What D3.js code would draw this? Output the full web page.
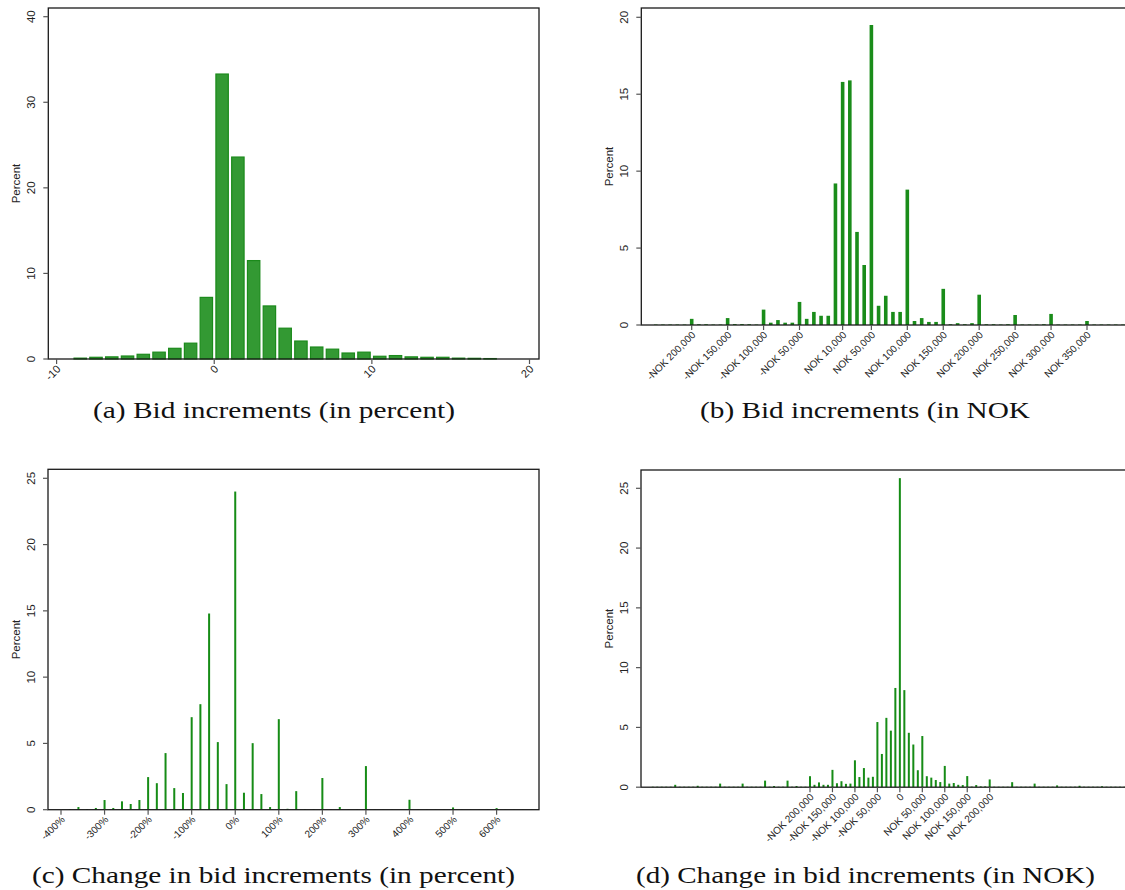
<!DOCTYPE html>
<html>
<head>
<meta charset="utf-8">
<script src="https://cdn.jsdelivr.net/npm/d3@7"></script>
<style>
  html, body { margin: 0; padding: 0; background: #fff; overflow: hidden; }
  svg { display: block; }
</style>
</head>
<body>
<script>
// ---- data ----

// (a) bid increments in percent, bins of width 1, centres
var aBins = [-8.5,-7.5,-6.5,-5.5,-4.5,-3.5,-2.5,-1.5,-0.5,0.5,1.5,2.5,3.5,4.5,5.5,6.5,7.5,8.5,9.5,10.5,11.5,12.5,13.5,14.5,15.5,16.5,17.5];
var aPct  = [0.1,0.2,0.25,0.35,0.55,0.8,1.25,1.85,7.2,33.3,23.6,11.5,6.2,3.6,2.1,1.4,1.15,0.7,0.8,0.32,0.4,0.25,0.2,0.2,0.1,0.08,0.05];
var aTicks = [-10, 0, 10, 20];
var aYTicks = [0, 10, 20, 30, 40];

// (b) bid increments in NOK (thousands)
var bNok = [-250,-240,-230,-220,-210,-200,-190,-180,-170,-160,-150,-140,-130,-120,-110,-100,-90,-80,-70,-60,-50,-40,-30,-20,-10,
            0,10,20,30,40,50,60,70,80,90,100,110,120,130,140,150,160,170,180,190,200,210,220,230,240,250,
            260,270,280,290,300,310,320,330,340,350,360,370,380,390,400];
var bPct = [0.03,0.03,0.03,0.03,0.03,0.4,0.05,0.05,0.03,0.03,0.45,0.06,0.06,0.05,0.03,1.0,0.15,0.32,0.15,0.15,1.5,0.4,0.85,0.6,0.6,
            9.2,15.8,15.9,6.05,3.9,19.5,1.25,1.9,0.85,0.85,8.8,0.26,0.45,0.2,0.2,2.35,0.05,0.12,0.05,0.12,1.97,0.05,0.05,0.03,0.05,0.65,
            0.03,0.03,0.03,0.05,0.72,0.03,0.03,0.03,0.03,0.26,0.03,0.03,0.03,0.03,0.03];
var bTicks = [-200,-150,-100,-50,10,50,100,150,200,250,300,350];
var bYTicks = [0, 5, 10, 15, 20];

// (c) change in bid increments, percent
var cChg = [-400,-380,-360,-340,-320,-300,-280,-260,-240,-220,-200,-180,-160,-140,-120,-100,-80,-60,-40,-20,
            0,20,40,60,80,100,120,140,160,180,200,220,240,260,280,300,320,340,360,380,
            400,420,440,460,480,500,520,540,560,580,600,620,640,660,680];
var cPct = [0.02,0.05,0.2,0.05,0.13,0.73,0.13,0.63,0.43,0.73,2.46,2.0,4.27,1.63,1.26,6.98,7.96,14.8,5.1,1.93,
            24.0,1.28,5.02,1.18,0.2,6.83,0.07,1.4,0.04,0.04,2.39,0.03,0.2,0.03,0.03,3.29,0.02,0.02,0.02,0.02,
            0.75,0.02,0.02,0.02,0.02,0.17,0.02,0.02,0.02,0.02,0.12,0.02,0.02,0.02,0.02];
var cTicks = [-400,-300,-200,-100,0,100,200,300,400,500,600];
var cYTicks = [0, 5, 10, 15, 20, 25];

// (d) change in bid increments, NOK (thousands)
var dNok = [-550,-540,-530,-520,-510,-500,-490,-480,-470,-460,-450,-440,-430,-420,-410,-400,-390,-380,-370,-360,
            -350,-340,-330,-320,-310,-300,-290,-280,-270,-260,-250,-240,-230,-220,-210,-200,-190,-180,-170,-160,
            -150,-140,-130,-120,-110,-100,-90,-80,-70,-60,-50,-40,-30,-20,-10,
            0,10,20,30,40,50,60,70,80,90,100,110,120,130,140,150,160,170,180,190,200,
            210,220,230,240,250,260,270,280,290,300,310,320,330,340,350,360,370,380,390,400,
            410,420,430,440,450,460,470,480,490,500];
var dPct = [0.04,0.04,0.04,0.04,0.04,0.2,0.04,0.04,0.04,0.04,0.12,0.04,0.04,0.04,0.04,0.3,0.04,0.04,0.04,0.04,
            0.3,0.04,0.04,0.04,0.04,0.55,0.04,0.1,0.04,0.04,0.55,0.04,0.1,0.04,0.04,0.92,0.2,0.4,0.2,0.2,
            1.45,0.33,0.5,0.28,0.3,2.25,0.85,1.6,0.8,0.87,5.45,2.78,5.8,4.73,8.3,
            25.85,8.12,4.55,3.57,1.42,4.28,0.92,0.8,0.6,0.43,1.78,0.3,0.35,0.2,0.18,0.93,0.05,0.18,0.07,0.07,0.65,
            0.04,0.04,0.04,0.04,0.42,0.04,0.04,0.04,0.04,0.3,0.04,0.04,0.04,0.04,0.15,0.04,0.04,0.04,0.04,0.12,
            0.04,0.04,0.04,0.04,0.08,0.04,0.04,0.04,0.04,0.04];
var dTicks = [-200,-150,-100,-50,0,50,100,150,200];
var dYTicks = [0, 5, 10, 15, 20, 25];

var captions = ["(a) Bid increments (in percent)", "(b) Bid increments (in NOK",
                "(c) Change in bid increments (in percent)", "(d) Change in bid increments (in NOK)"];

// ---- drawing ----
var W = 1125, H = 890;
var svg = d3.select('body').append('svg').attr('width', W).attr('height', H);

var nokFmt = function(v){
  if (v === 0) return '0';
  return (v < 0 ? '-' : '') + 'NOK ' + d3.format(',')(Math.abs(v) * 1000);
};

function panel(p){
  var g = svg.append('g');
  var x = d3.scaleLinear().domain(p.xCal).range(p.xPix);
  var y = d3.scaleLinear().domain(p.yCal).range(p.yPix);
  var axisY = y(0);

  // bars
  g.selectAll('rect.bar').data(p.xs).enter().append('rect')
    .attr('class', 'bar')
    .attr('x', function(d){ return x(d) - p.barW / 2; })
    .attr('width', p.barW)
    .attr('y', function(d, i){ return y(p.ys[i]); })
    .attr('height', function(d, i){ return axisY - y(p.ys[i]); })
    .style('fill', p.fill)
    .style('stroke', p.stroke)
    .style('stroke-width', p.strokeW || 0);

  // frame
  g.append('rect')
    .attr('x', p.box[0]).attr('y', p.box[2])
    .attr('width', p.box[1] - p.box[0]).attr('height', axisY - p.box[2])
    .style('fill', 'none').style('stroke', '#1a1a1a').style('stroke-width', 1.3);

  // y axis ticks + labels
  var yt = g.selectAll('g.yt').data(p.yTicks).enter().append('g').attr('class', 'yt');
  yt.append('line')
    .attr('x1', p.box[0] - 5).attr('x2', p.box[0])
    .attr('y1', function(d){ return y(d); }).attr('y2', function(d){ return y(d); })
    .style('stroke', '#555').style('stroke-width', 1.2);
  yt.append('text')
    .attr('transform', function(d){ return 'translate(' + (p.box[0] - 13) + ',' + y(d) + ') rotate(-90)'; })
    .attr('text-anchor', 'middle')
    .style('font-family', 'Liberation Sans, Arial, sans-serif').style('font-size', '11.5px').style('fill', '#222')
    .text(function(d){ return d; });

  g.append('text')
    .attr('transform', 'translate(' + (p.box[0] - 28) + ',' + ((p.box[2] + axisY) / 2) + ') rotate(-90)')
    .attr('text-anchor', 'middle')
    .style('font-family', 'Liberation Sans, Arial, sans-serif').style('font-size', '11.5px').style('fill', '#222')
    .text('Percent');

  // x axis ticks + labels
  var xt = g.selectAll('g.xt').data(p.xTicks).enter().append('g').attr('class', 'xt');
  xt.append('line')
    .attr('x1', function(d){ return x(d); }).attr('x2', function(d){ return x(d); })
    .attr('y1', axisY).attr('y2', axisY + 5)
    .style('stroke', '#555').style('stroke-width', 1.2);
  xt.append('text')
    .attr('transform', function(d){ return 'translate(' + (x(d) + 2) + ',' + (axisY + 8) + ') rotate(-45)'; })
    .attr('text-anchor', 'end').attr('dy', '0.35em')
    .style('font-family', 'Liberation Sans, Arial, sans-serif').style('font-size', p.xFont).style('fill', '#222')
    .text(p.fmt);

  // caption
  g.append('text')
    .attr('x', p.cap[0]).attr('y', p.cap[2])
    .attr('textLength', p.cap[1] - p.cap[0]).attr('lengthAdjust', 'spacingAndGlyphs')
    .style('font-family', 'Liberation Serif, Times New Roman, serif').style('font-size', '23px').style('fill', '#111')
    .text(p.caption);
}

panel({
  xs: aBins, ys: aPct, xTicks: aTicks, yTicks: aYTicks,
  xCal: [-10, 20], xPix: [56.6, 529.5], yCal: [0, 40], yPix: [359, 16.7],
  box: [48.3, 539, 8], barW: 12.4, fill: '#339933', stroke: '#1b8a1b', strokeW: 1.2,
  xFont: '11px', fmt: function(d){ return d; },
  caption: captions[0], cap: [93, 455, 418]
});

panel({
  xs: bNok, ys: bPct, xTicks: bTicks, yTicks: bYTicks,
  xCal: [-200, 350], xPix: [691.7, 1087], yCal: [0, 20], yPix: [325, 17.3],
  box: [641.3, 1150, 8], barW: 3.6, fill: '#1a8c1a', stroke: 'none',
  xFont: '10px', fmt: nokFmt,
  caption: captions[1], cap: [700, 1030, 418]
});

panel({
  xs: cChg, ys: cPct, xTicks: cTicks, yTicks: cYTicks,
  xCal: [-400, 600], xPix: [61, 496.6], yCal: [0, 25], yPix: [809.7, 478.3],
  box: [48, 539, 469.3], barW: 2, fill: '#168c16', stroke: 'none',
  xFont: '10px', fmt: function(d){ return d + '%'; },
  caption: captions[2], cap: [32, 515, 883]
});

panel({
  xs: dNok, ys: dPct, xTicks: dTicks, yTicks: dYTicks,
  xCal: [-200, 200], xPix: [810, 989.7], yCal: [0, 25], yPix: [787.2, 488.3],
  box: [641, 1150, 470], barW: 2, fill: '#168c16', stroke: 'none',
  xFont: '10px', fmt: nokFmt,
  caption: captions[3], cap: [636, 1095, 883]
});
</script>
</body>
</html>
